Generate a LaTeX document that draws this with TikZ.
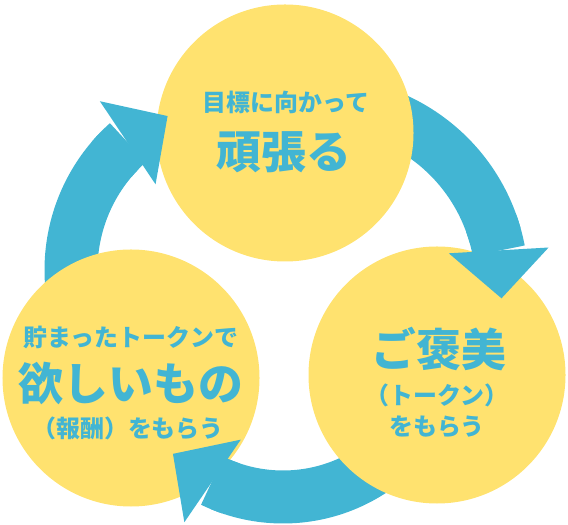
\documentclass[tikz,border=0pt]{standalone}
\usepackage{fontspec}
\usepackage{tikz}
\usetikzlibrary{positioning, arrows.meta, bending, calc}
\newfontfamily\jpfont{Noto Sans CJK JP}
\definecolor{CycleBlue}{HTML}{42B5D3}
\definecolor{CycleYellow}{HTML}{FFE26F}

\begin{document}
\begin{tikzpicture}[
    x=1bp, y=1bp,
    disc/.style={circle, fill=CycleYellow, minimum size=257bp, inner sep=0pt},
    lblsmall/.style={text=CycleBlue, font=\jpfont\bfseries\fontsize{24}{28}\selectfont, inner sep=0pt},
    lblbig/.style={text=CycleBlue, font=\jpfont\bfseries\fontsize{45}{50}\selectfont, inner sep=0pt},
    band/.style={draw=CycleBlue, line width=53bp},
    flow/.style={band, -{Triangle[flex, length=48bp, width=100bp, line width=0pt]}}
]
  \useasboundingbox (0,0) rectangle (568,525);

  % arrow bodies, tails hidden by the circles
  \foreach \n/\cx/\cy/\r/\s/\e in {1/320/240/182/105/-4.2, 2/283/190/162/-5/-132.8, 3/242/255/171/215/115.8}{
    \coordinate (hub\n) at (\cx,\cy);
    \coordinate (tail\n) at ($(hub\n)+(\s:\r)$);
    \draw[band] (tail\n) arc[start angle=\s, end angle=\e+20, radius=\r];
  }

  % circles
  \node[disc] (goal) at (285,392) {};
  \node[disc] (wish) at (131,147) {};
  \node[disc] (prize) at (437,150) {};

  % arrow heads, on top of the circles
  \foreach \n/\r/\e in {1/182/-4.2, 2/162/-132.8, 3/171/115.8}{
    \coordinate (head\n) at ($(hub\n)+(\e+24:\r)$);
    \draw[flow] (head\n) arc[start angle=\e+24, end angle=\e, radius=\r];
  }

  % texts
  \node[lblsmall] (goal-a) at ($(goal)+(1,31)$) {目標に向かって};
  \node[lblbig] (goal-b) at ($(goal)+(-1,-19)$) {頑張る};
  \node[lblsmall] (wish-a) at ($(wish)+(0,41)$) {貯まったトークンで};
  \node[lblbig] (wish-b) at ($(wish)+(0,-5)$) {欲しいもの};
  \node[lblsmall] (wish-c) at ($(wish)+(-3,-50)$) {（報酬）をもらう};
  \node[lblbig] (prize-a) at ($(prize)+(2,26)$) {ご褒美};
  \node[lblsmall] (prize-b) at ($(prize)+(0,-20)$) {（トークン）};
  \node[lblsmall] (prize-c) at ($(prize)+(0,-52)$) {をもらう};
\end{tikzpicture}
\end{document}
